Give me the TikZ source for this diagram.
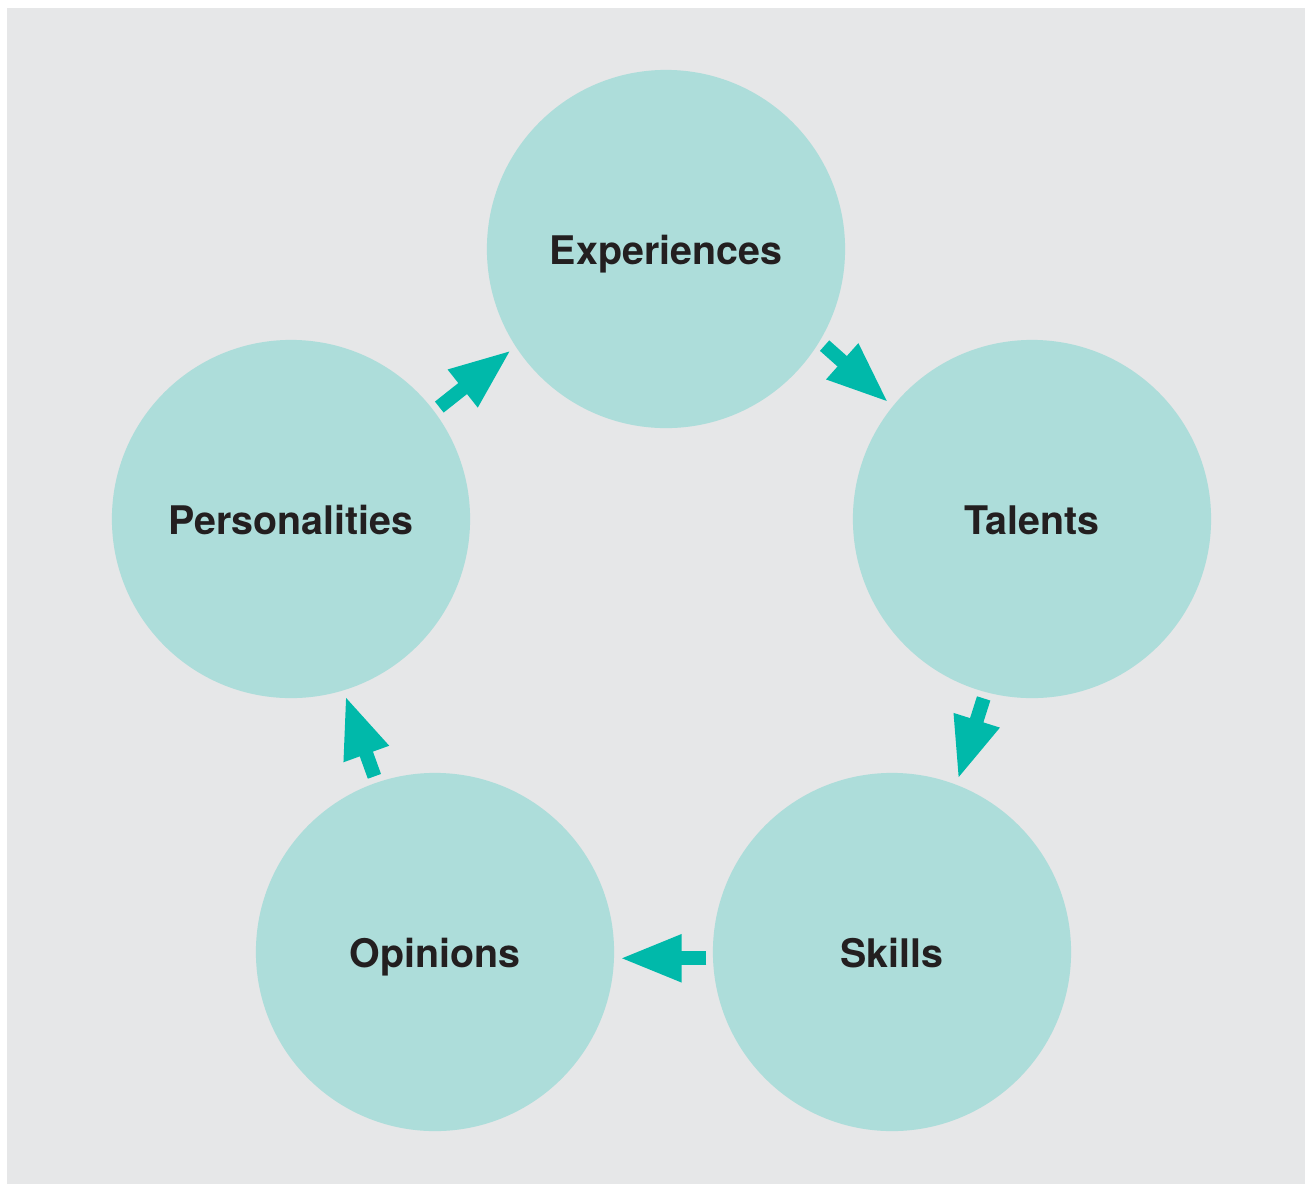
\documentclass[tikz,border=0pt]{standalone}
\usepackage{fontspec}
\setmainfont{TeX Gyre Heros}
\usetikzlibrary{arrows.meta}

\definecolor{paper}{RGB}{230,231,232}
\definecolor{bubblefill}{RGB}{173,221,218}
\definecolor{teal}{RGB}{0,185,170}
\definecolor{ink}{RGB}{35,31,32}

\tikzstyle{bubble}=[circle, fill=bubblefill, minimum size=3.58cm, inner sep=0pt, text=ink, text height=1.65ex, text depth=0pt, font=\fontsize{11.2}{13}\selectfont\bfseries]
\tikzstyle{arrow}=[draw=teal, line width=0.14cm, -{Triangle[width=0.44cm, length=0.62cm]}, shorten <=0.06cm, shorten >=0.05cm]

\begin{document}
\begin{tikzpicture}[x=0.01cm, y=-0.01cm]
      \useasboundingbox (0, 0) rectangle (1308, 1184);
      \fill[paper] (7, 8) rectangle (1305, 1184);

      \node[bubble] (exp) at (666, 249) {Experiences};
      \node[bubble] (tal) at (1032, 519) {Talents};
      \node[bubble] (skl) at (892, 952) {Skills};
      \node[bubble] (opi) at (435, 952) {Opinions};
      \node[bubble] (per) at (291, 519) {Personalities};

      \draw[arrow] (exp.-31) to (tal.141);
      \draw[arrow] (tal.-105) to (skl.69);
      \draw[arrow] (skl.-178) to (opi.-2);
      \draw[arrow] (opi.109) to (per.-73);
      \draw[arrow] (per.37) to (exp.-147);
    \end{tikzpicture}
\end{document}
